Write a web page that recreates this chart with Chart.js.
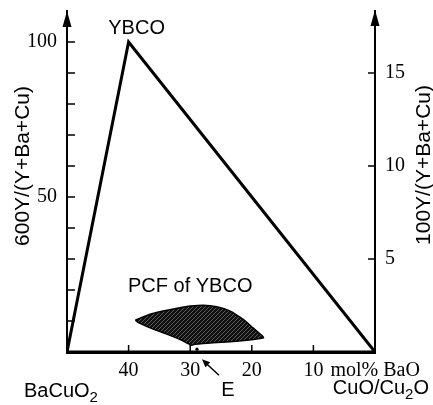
<!DOCTYPE html>
<html><head><meta charset="utf-8">
<script src="https://cdn.jsdelivr.net/npm/chart.js@4.4.1/dist/chart.umd.min.js"></script>
<style>html,body{margin:0;padding:0;background:#fff}#wrap{width:433px;height:405px;position:relative}</style>
</head><body><div id="wrap"><canvas id="c"></canvas></div>
<script>
// mol% BaO (x) and 600Y/(Y+Ba+Cu) (y)
const triangleX = [50, 40, 0, 50];
const triangleY = [0, 100, 0, 0];
const pcfX = [38.9, 36.5, 34.4, 31.7, 30.0, 27.9, 25.7, 23.5, 21.4, 19.8, 18.4, 18.1, 20.8, 23.5, 26.3, 29.2, 29.8, 31.7, 34.4, 36.5, 38.4, 38.9];
const pcfY = [10.3, 12.2, 13.2, 14.3, 14.8, 15.1, 14.6, 13.2, 10.5, 7.8, 5.4, 4.6, 3.8, 3.3, 3.0, 2.5, 2.2, 4.1, 6.2, 7.8, 9.5, 10.3];
const eutecticX = [28.9];
const eutecticY = [0.9];
const xTicks = [40, 30, 20, 10];
const leftTicks = [50, 100];
const leftMinorTicks = [10, 20, 30, 40, 50, 60, 70, 80, 90, 100];
const rightTicks = [5, 10, 15];
const yMax = 110;

function pts(xs, ys){ return xs.map((x,i)=>({x:x, y:ys[i]})); }

function hatch(){
  const c=document.createElement('canvas'); c.width=4; c.height=4;
  const g=c.getContext('2d');
  g.fillStyle='#111'; g.fillRect(0,0,4,4);
  g.strokeStyle='#7a7a7a'; g.lineWidth=0.7;
  g.beginPath();
  g.moveTo(0,4); g.lineTo(4,0);
  g.moveTo(-1,1); g.lineTo(1,-1);
  g.moveTo(3,5); g.lineTo(5,3);
  g.stroke();
  return g.createPattern(c,'repeat');
}

const SANS='"Liberation Sans", Arial, sans-serif';
const SERIF='"Liberation Serif", "Times New Roman", serif';

function drawParts(ctx, parts, x, y, align){
  let total=0;
  parts.forEach(p=>{ctx.font=p[1]+'px '+SANS; total+=ctx.measureText(p[0]).width;});
  let cx = align==='right' ? x-total : x;
  ctx.textAlign='left'; ctx.textBaseline='alphabetic';
  parts.forEach(p=>{ctx.font=p[1]+'px '+SANS; ctx.fillText(p[0], cx, y+p[2]); cx+=ctx.measureText(p[0]).width;});
}

function arrowHead(ctx, tx, ty, fx, fy, len, half){
  const a=Math.atan2(ty-fy, tx-fx);
  ctx.beginPath();
  ctx.moveTo(tx,ty);
  ctx.lineTo(tx-len*Math.cos(a)+half*Math.sin(a), ty-len*Math.sin(a)-half*Math.cos(a));
  ctx.lineTo(tx-len*Math.cos(a)-half*Math.sin(a), ty-len*Math.sin(a)+half*Math.cos(a));
  ctx.closePath(); ctx.fill();
}

const decor = {
  id:'decor',
  afterDraw(chart){
    const ctx=chart.ctx, xs=chart.scales.x, ys=chart.scales.y, y2=chart.scales.y2;
    const L=xs.getPixelForValue(50), R=xs.getPixelForValue(0), B=ys.getPixelForValue(0);
    ctx.save();
    ctx.strokeStyle='#000'; ctx.fillStyle='#000'; ctx.lineWidth=1.5;
    ctx.beginPath();
    leftMinorTicks.forEach(v=>{const p=ys.getPixelForValue(v); ctx.moveTo(L,p); ctx.lineTo(L+8,p);});
    rightTicks.forEach(v=>{const p=y2.getPixelForValue(v); ctx.moveTo(R,p); ctx.lineTo(R-7,p);});
    xTicks.forEach(v=>{const p=xs.getPixelForValue(v); ctx.moveTo(p,B); ctx.lineTo(p,B-7);});
    ctx.stroke();
    const T=chart.chartArea.top;
    ctx.lineWidth=2;
    ctx.beginPath(); ctx.moveTo(L,T+10); ctx.lineTo(L,T); ctx.moveTo(R,T+10); ctx.lineTo(R,T-1); ctx.stroke();
    arrowHead(ctx, L, T, L, T+20, 16, 4.5);
    arrowHead(ctx, R, T-1, R, T+20, 16, 4.5);
    ctx.font='21px '+SANS; ctx.textAlign='center'; ctx.textBaseline='middle';
    ctx.save(); ctx.translate(23,166); ctx.rotate(-Math.PI/2); ctx.fillText('600Y/(Y+Ba+Cu)',0,0); ctx.restore();
    ctx.save(); ctx.translate(424,165); ctx.rotate(-Math.PI/2); ctx.fillText('100Y/(Y+Ba+Cu)',0,0); ctx.restore();
    ctx.font='20px '+SANS; ctx.textAlign='center'; ctx.textBaseline='alphabetic';
    const ax=xs.getPixelForValue(triangleX[1]), ay=ys.getPixelForValue(triangleY[1]);
    ctx.fillText('YBCO', ax+8, ay-8);
    ctx.fillText('PCF of YBCO', xs.getPixelForValue(30), 292);
    const ex=xs.getPixelForValue(eutecticX[0]), ey=ys.getPixelForValue(eutecticY[0]);
    ctx.fillText('E', ex+31, 396);
    ctx.lineWidth=1.5;
    ctx.beginPath(); ctx.moveTo(ex+22,ey+26); ctx.lineTo(ex+9,ey+14); ctx.stroke();
    arrowHead(ctx, ex+5, ey+10, ex+22, ey+26, 8, 3.5);
    drawParts(ctx, [['BaCuO',20,0],['2',15,5]], 24, 397, 'left');
    drawParts(ctx, [['CuO/Cu',20,0],['2',15,5],['O',20,0]], 429, 394, 'right');
    ctx.font='20px '+SERIF; ctx.textAlign='left'; ctx.textBaseline='middle';
    ctx.fillText('mol% BaO', xs.getPixelForValue(10)+17, 371);
    ctx.restore();
  }
};

new Chart(document.getElementById('c'), {
  type:'scatter',
  data:{datasets:[
    {label:'PCF', data:pts(pcfX,pcfY), showLine:true, fill:'shape', backgroundColor:hatch(), borderColor:'#000', borderWidth:1.5, pointRadius:0, tension:0.15},
    {label:'triangle', data:pts(triangleX,triangleY), showLine:true, fill:false, borderColor:'#000', borderWidth:3, pointRadius:0, borderJoinStyle:'miter', tension:0},
    {label:'E', data:pts(eutecticX,eutecticY), showLine:false, pointRadius:1.6, pointBackgroundColor:'#000', pointBorderWidth:0}
  ]},
  options:{
    responsive:true, maintainAspectRatio:false, animation:false,
    layout:{padding:{top:11,left:0,right:0,bottom:0}},
    plugins:{legend:{display:false}, tooltip:{enabled:false}},
    scales:{
      x:{type:'linear', reverse:true, min:0, max:50, position:'bottom',
        grid:{display:false, drawTicks:false}, border:{display:true, color:'#000', width:3},
        afterBuildTicks:s=>{s.ticks=xTicks.map(v=>({value:v}));},
        afterFit:s=>{s.height=53; s.paddingLeft=0; s.paddingRight=0;},
        ticks:{font:{family:SERIF,size:20}, color:'#000', padding:7, maxRotation:0, autoSkip:false}},
      y:{type:'linear', position:'left', min:0, max:yMax,
        grid:{display:false, drawTicks:false}, border:{display:true, color:'#000', width:2},
        afterBuildTicks:s=>{s.ticks=leftTicks.map(v=>({value:v}));},
        afterFit:s=>{s.width=67; s.paddingTop=0; s.paddingBottom=0;},
        ticks:{font:{family:SERIF,size:20}, color:'#000', padding:10}},
      y2:{type:'linear', position:'right', min:0, max:yMax/6,
        grid:{display:false, drawTicks:false}, border:{display:true, color:'#000', width:2},
        afterBuildTicks:s=>{s.ticks=rightTicks.map(v=>({value:v}));},
        afterFit:s=>{s.width=58; s.paddingTop=0; s.paddingBottom=0;},
        ticks:{font:{family:SERIF,size:20}, color:'#000', padding:10}}
    }
  },
  plugins:[decor]
});
</script></body></html>
